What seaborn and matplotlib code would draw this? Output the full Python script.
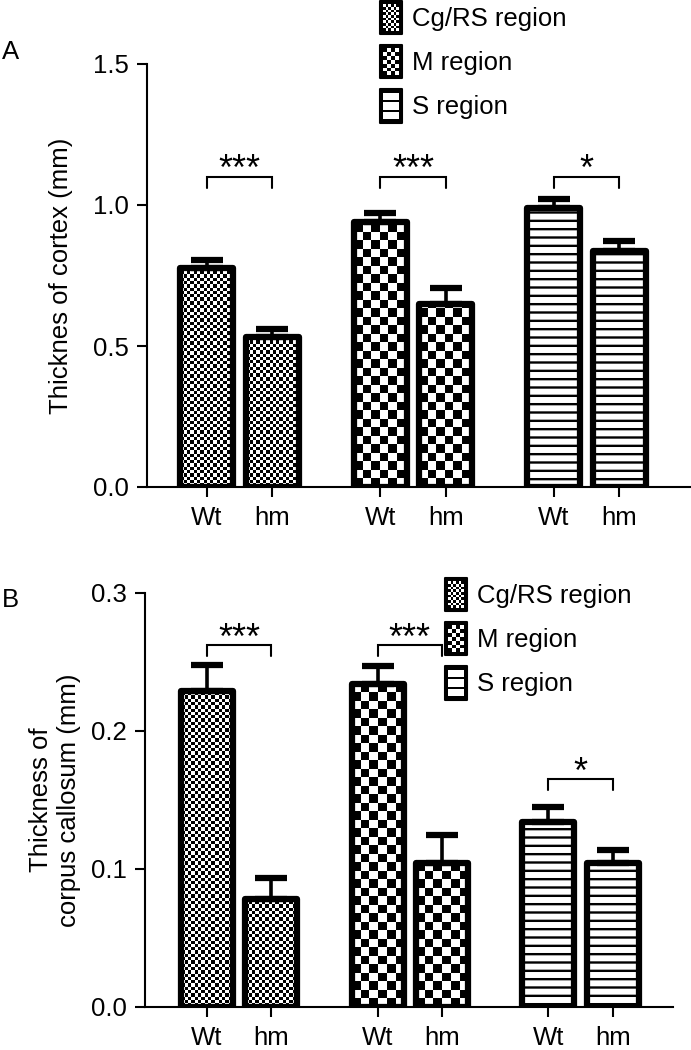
import numpy as np
import pandas as pd
import matplotlib
matplotlib.use("Agg")
import matplotlib.pyplot as plt
import seaborn as sns
from matplotlib.patches import Rectangle, Patch
from matplotlib.legend_handler import HandlerBase

# ---------------- data ----------------
regions = ["Cg/RS region", "M region", "S region"]
genotypes = ["Wt", "hm"]
x_pos = [0, 1, 2.65, 3.65, 5.3, 6.3]

cortex_mean = [0.778, 0.533, 0.938, 0.648, 0.988, 0.838]
cortex_sem = [0.027, 0.029, 0.032, 0.058, 0.035, 0.036]
cortex_sig = ["***", "***", "*"]
cortex_bracket = [1.10, 1.10, 1.10]

cc_mean = [0.229, 0.078, 0.234, 0.104, 0.134, 0.104]
cc_sem = [0.0185, 0.0155, 0.013, 0.021, 0.011, 0.010]
cc_sig = ["***", "***", "*"]
cc_bracket = [0.262, 0.262, 0.165]

# ---------------- style ----------------
sns.set_theme(style="ticks")
plt.rcParams["font.family"] = ["Liberation Sans", "DejaVu Sans"]
plt.rcParams["hatch.linewidth"] = 1.7
plt.rcParams["text.color"] = "black"
plt.rcParams["axes.labelcolor"] = "black"
plt.rcParams["xtick.color"] = "black"
plt.rcParams["ytick.color"] = "black"
plt.rcParams["axes.edgecolor"] = "black"
FS = 18.5

fig = plt.figure(figsize=(6.91, 10.5), dpi=100)
W, H = 691, 1050
axA = fig.add_axes([147 / W, 1 - 487 / H, 543 / W, 423 / H])
axB = fig.add_axes([145 / W, 1 - 1007 / H, 528 / W, 414 / H])


def pattern_array(kind, nx, ny):
    X, Y = np.meshgrid(np.arange(nx), np.arange(ny))
    c = 3.3 if kind == 0 else 8.5
    black = ((np.floor(X / c) + np.floor(Y / c)) % 2) == 0
    return np.where(black, 0.0, 1.0)


def draw_panel(ax, means, sems, sig, brackets, ylim, yticks, ylabel, xlim, label_x):
    df = pd.DataFrame({"x": x_pos, "y": means, "region": np.repeat(regions, 2)})
    sns.barplot(data=df, x="x", y="y", native_scale=True, width=0.81,
                color="white", saturation=1, edgecolor="black", linewidth=4.5,
                errorbar=None, ax=ax, zorder=3)
    ax.set_xlim(*xlim)
    ax.set_ylim(*ylim)
    sx, sy = (lambda p: (p[1, 0] - p[0, 0], p[1, 1] - p[0, 1]))(
        ax.transData.transform([(0, 0), (1, 1)]))

    patches = sorted(ax.patches, key=lambda p: p.get_x())
    for i, patch in enumerate(patches):
        kind = i // 2
        patch.set_joinstyle("round")
        if kind == 2:
            patch.set_hatch("--")
            continue
        x0, w, h = patch.get_x(), patch.get_width(), patch.get_height()
        nx = int(np.ceil(w * sx)) + 1
        ny = int(np.ceil(h * sy)) + 1
        arr = pattern_array(kind, nx, ny)
        im = ax.imshow(arr, cmap="gray", vmin=0, vmax=1, origin="lower",
                       extent=(x0, x0 + nx / sx, 0, ny / sy),
                       interpolation="nearest", aspect="auto", zorder=2.5)
        im.set_clip_path(patch)
        patch.set_facecolor("none")

    ax.errorbar(x_pos, means, yerr=[np.zeros(len(means)), sems], fmt="none",
                ecolor="black", elinewidth=2.6, capsize=11.5, capthick=4.5,
                zorder=4)

    leg = 11 / sy
    for g in range(3):
        xa, xb = x_pos[2 * g], x_pos[2 * g + 1]
        yb = brackets[g]
        ax.plot([xa, xa, xb, xb], [yb - leg, yb, yb, yb - leg],
                color="black", lw=1.5, zorder=5, solid_joinstyle="miter")
        ax.annotate(sig[g], xy=((xa + xb) / 2, yb), xytext=(0, -2.5),
                    textcoords="offset points", ha="center", va="baseline",
                    fontsize=26, color="black")

    ax.set_xlim(*xlim)
    ax.set_ylim(*ylim)
    ax.set_yticks(yticks)
    ax.set_yticklabels([f"{t:.1f}" for t in yticks])
    ax.set_xticks(x_pos)
    ax.set_xticklabels(genotypes * 3)
    ax.set_xlabel("")
    ax.set_ylabel(ylabel, fontsize=FS, color="black")
    ax.yaxis.set_label_coords(label_x, 0.5)
    sns.despine(ax=ax)
    for s in ("left", "bottom"):
        ax.spines[s].set_linewidth(1.5)
        ax.spines[s].set_color("black")
    ax.tick_params(axis="y", length=7, width=1.5, labelsize=FS, pad=6, colors="black")
    ax.tick_params(axis="x", length=7, width=1.5, labelsize=FS, pad=7, colors="black")


draw_panel(axA, cortex_mean, cortex_sem, cortex_sig, cortex_bracket,
           (0, 1.5), [0.0, 0.5, 1.0, 1.5], "Thicknes of cortex (mm)",
           (-0.917, 7.385), -0.136)
draw_panel(axB, cc_mean, cc_sem, cc_sig, cc_bracket,
           (0, 0.3), [0.0, 0.1, 0.2, 0.3], "Thickness of\ncorpus callosum (mm)",
           (-0.963, 7.236), -0.121)


# ---------------- legends ----------------
class PatternHandler(HandlerBase):
    def __init__(self, kind):
        super().__init__()
        self.kind = kind

    def create_artists(self, legend, orig_handle, xdescent, ydescent,
                       width, height, fontsize, trans):
        x0, y0 = -xdescent, -ydescent
        arts = [Rectangle((x0, y0), width, height, facecolor="black",
                          edgecolor="black", lw=1.5, joinstyle="round",
                          transform=trans)]
        b = 2.4
        iw, ih = width - 2 * b, height - 2 * b
        if self.kind == 2:
            lt = 1.8
            sh = (ih - 2 * lt) / 3
            for k in range(3):
                arts.append(Rectangle((x0 + b, y0 + b + k * (sh + lt)), iw, sh,
                                      facecolor="white", lw=0, transform=trans))
        else:
            ncol = 6 if self.kind == 0 else 4
            c = iw / ncol
            nrow = int(round(ih / c))
            c_y = ih / nrow
            arts.append(Rectangle((x0 + b, y0 + b), iw, ih, facecolor="white",
                                  lw=0, transform=trans))
            for j in range(nrow):
                for i in range(ncol):
                    if (i + j) % 2 == 0:
                        arts.append(Rectangle((x0 + b + i * c, y0 + b + j * c_y),
                                              c, c_y, facecolor="black", lw=0,
                                              transform=trans))
        return arts


def add_legend(ax, anchor):
    handles = [Patch(label=r) for r in regions]
    hmap = {h: PatternHandler(k) for k, h in enumerate(handles)}
    lg = ax.legend(handles=handles, handler_map=hmap, loc="upper left",
                   bbox_to_anchor=anchor, bbox_transform=fig.transFigure,
                   frameon=False, fontsize=FS, handlelength=0.86, handleheight=1.62,
                   handletextpad=0.39, labelspacing=0.42, borderpad=0,
                   borderaxespad=0)
    for t in lg.get_texts():
        t.set_color("black")


add_legend(axA, (380 / W, 1 - 1 / H))
add_legend(axB, (445 / W, 1 - 578 / H))

fig.text(2 / W, 1 - 40 / H, "A", fontsize=FS, va="top", ha="left", color="black")
fig.text(2 / W, 1 - 588 / H, "B", fontsize=FS, va="top", ha="left", color="black")

fig.savefig("out.png", dpi=100)
